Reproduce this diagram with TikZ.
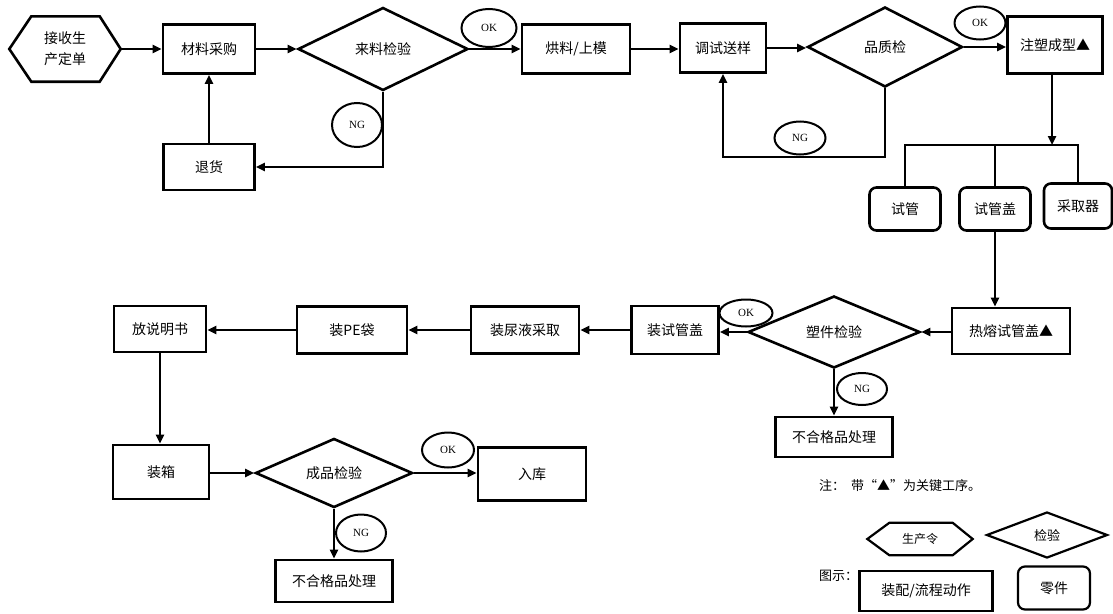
\documentclass[tikz,border=0pt]{standalone}
\usepackage{fontspec}
\setmainfont{Noto Sans CJK SC}
\newfontfamily\latinf{Liberation Serif}
\usetikzlibrary{arrows.meta,shapes.geometric}
\begin{document}
\begin{tikzpicture}[x=1pt,y=-1pt,
  every node/.style={font=\fontsize{14}{21}\selectfont},
  ln/.style={line width=2.6pt},
  box/.style={draw,line width=2.6pt,inner sep=0pt},
  rbox/.style={draw,line width=2.6pt,inner sep=0pt,rounded corners=7pt},
  dia/.style={draw,diamond,line width=2.6pt,inner sep=0pt},
  hexa/.style={inner sep=0pt,align=center},
  tag/.style={draw,ellipse,line width=2pt,inner sep=0pt,font=\latinf\fontsize{11}{12}\selectfont},
  arr/.style={line width=2.4pt,-{Triangle[length=9pt,width=8pt]}},
  legtxt/.style={font=\fontsize{13}{15}\selectfont,anchor=west,inner sep=0pt}]
\useasboundingbox (0,0) rectangle (1113,613);

% row 1
\node[hexa,minimum width=111,minimum height=65] (order) at (65,49) {接收生\\产定单};
\draw[ln] (order.west) -- ([xshift=22]order.north west) -- ([xshift=-21]order.north east)
  -- (order.east) -- ([xshift=-21]order.south east) -- ([xshift=22]order.south west) -- cycle;
\node[box,minimum width=92,minimum height=49] (buy) at (209,49) {材料采购};
\node[box,minimum width=91,minimum height=46] (ret) at (209,167) {退货};
\node[dia,minimum width=170,minimum height=83] (chk1) at (383,49) {来料检验};
\node[box,minimum width=108,minimum height=49] (bake) at (576,49) {烘料/上模};
\node[box,minimum width=86,minimum height=49] (debug) at (723,48) {调试送样};
\node[dia,minimum width=155,minimum height=80] (chk2) at (885,47) {品质检};
\node[box,minimum width=95,minimum height=57] (mold) at (1055,45) {注塑成型▲};

% parts
\node[rbox,minimum width=71,minimum height=43] (tube) at (905,209) {试管};
\node[rbox,minimum width=71,minimum height=43] (cap) at (995,209) {试管盖};
\node[rbox,minimum width=68,minimum height=45] (smp) at (1078,206) {采取器};
\coordinate (split) at (1052,145);

% row 2
\node[box,minimum width=118,minimum height=46] (hot) at (1011,331) {热熔试管盖▲};
\node[dia,minimum width=172,minimum height=72] (chk3) at (834,332) {塑件检验};
\node[box,minimum width=87,minimum height=48] (capasm) at (675,330) {装试管盖};
\node[box,minimum width=108,minimum height=47] (urine) at (525,330) {装尿液采取};
\node[box,minimum width=110,minimum height=47] (pe) at (352,330) {装PE袋};
\node[box,minimum width=92,minimum height=46] (manual) at (160,329) {放说明书};
\node[box,minimum width=117,minimum height=40] (rej1) at (834,437) {不合格品处理};

% row 3
\node[box,minimum width=96,minimum height=54] (pack) at (161,472) {装箱};
\node[dia,minimum width=157,minimum height=69] (chk4) at (334,473) {成品检验};
\node[box,minimum width=108,minimum height=53] (store) at (532,474) {入库};
\node[box,minimum width=117,minimum height=42] (rej2) at (334,581) {不合格品处理};

% connectors
\draw[arr] (order.east) -- (buy.west);
\draw[arr] (buy.east) -- (chk1.west);
\draw[arr] (chk1.south) |- (ret.east);
\draw[arr] (ret.north) -- (buy.south);
\draw[arr] (chk1.east) -- (bake.west);
\draw[arr] (bake.east) -- (bake.east -| debug.west);
\draw[arr] (debug.east) -- (debug.east -| chk2.west);
\draw[arr] (chk2.south) -- (chk2.south |- 0,157) -| (debug.south);
\draw[arr] (chk2.east) -- (chk2.east -| mold.west);
\draw[arr] ([yshift=3]mold.south -| split) -- (split);
\draw[ln] (tube.north) |- (split) -| (smp.north);
\draw[ln] (cap.north) -- (cap.north |- split);
\draw[arr] (cap.south) -- (cap.south |- hot.north);
\draw[arr] (hot.west |- chk3.east) -- (chk3.east);
\draw[arr] (chk3.west) -- (chk3.west -| capasm.east);
\draw[arr] (chk3.south) -- (rej1.north);
\draw[arr] (capasm.west) -- (capasm.west -| urine.east);
\draw[arr] (urine.west) -- (pe.east);
\draw[arr] (pe.west) -- (pe.west -| manual.east);
\draw[arr] (manual.south) -- (manual.south |- pack.north);
\draw[arr] (pack.east |- chk4.west) -- (chk4.west);
\draw[arr] (chk4.east) -- (chk4.east -| store.west);
\draw[arr] (chk4.south) -- (rej2.north);

% tags
\node[tag,minimum width=50,minimum height=44] (ng1) at (357,125) {NG};
\node[tag,minimum width=55,minimum height=38] (ok1) at (489,28) {OK};
\node[tag,minimum width=51,minimum height=33] (ng2) at (800,138) {NG};
\node[tag,minimum width=51,minimum height=33] (ok2) at (980,23) {OK};
\node[tag,minimum width=53,minimum height=27] (ok3) at (746,313) {OK};
\node[tag,minimum width=50,minimum height=32] (ng3) at (862,389) {NG};
\node[tag,minimum width=52,minimum height=35] (ok4) at (448,450) {OK};
\node[tag,minimum width=50,minimum height=37] (ng4) at (361,533) {NG};

% legend
\node[legtxt] (note) at (819,486) {注：\ \ 带“▲”为关键工序。};
\node[legtxt] (show) at (819,576) {图示：};
\node[hexa,minimum width=105,minimum height=32,font=\fontsize{12}{14}\selectfont] (lhex) at (920,539) {生产令};
\draw[line width=2.2pt] (lhex.west) -- ([xshift=22]lhex.north west) -- ([xshift=-20]lhex.north east)
  -- (lhex.east) -- ([xshift=-20]lhex.south east) -- ([xshift=22]lhex.south west) -- cycle;
\node[dia,line width=2.2pt,minimum width=121,minimum height=46,font=\fontsize{13}{14}\selectfont] (ldia) at (1047,535) {检验};
\node[box,line width=2.2pt,minimum width=133,minimum height=40] (lbox) at (926,591) {装配/流程动作};
\node[rbox,line width=2.2pt,minimum width=72,minimum height=43] (lpart) at (1054,588) {零件};
\end{tikzpicture}
\end{document}
